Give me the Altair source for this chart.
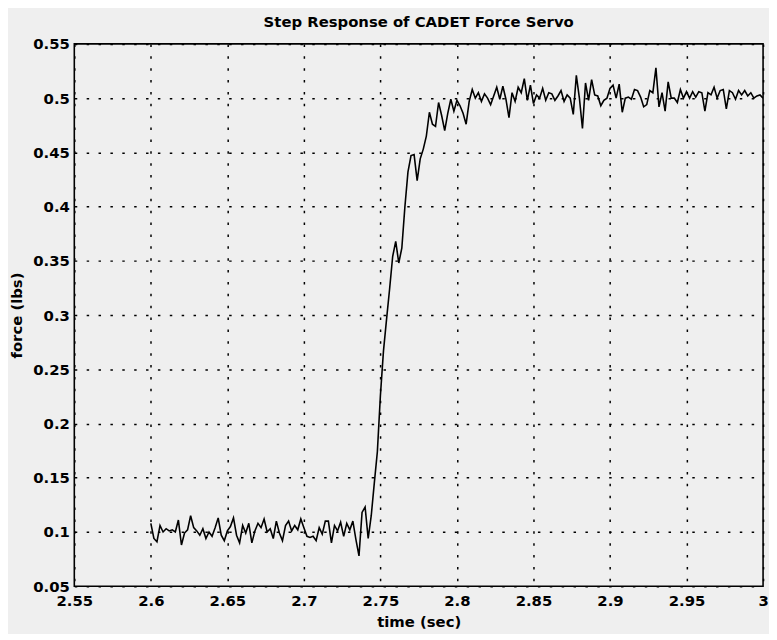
import altair as alt
import pandas as pd

# Force samples (lbs), one every 2 ms from t = 2.600 s to t = 3.000 s
force = [
    0.108, 0.094, 0.091, 0.106, 0.100, 0.103, 0.101, 0.102, 0.100, 0.111,
    0.088, 0.099, 0.102, 0.115, 0.104, 0.101, 0.097, 0.103, 0.094, 0.100,
    0.096, 0.104, 0.113, 0.097, 0.092, 0.101, 0.105, 0.113, 0.097, 0.090,
    0.106, 0.099, 0.108, 0.090, 0.101, 0.108, 0.104, 0.112, 0.100, 0.103,
    0.094, 0.110, 0.099, 0.092, 0.106, 0.110, 0.101, 0.106, 0.102, 0.112,
    0.104, 0.096, 0.095, 0.096, 0.092, 0.104, 0.098, 0.110, 0.110, 0.090,
    0.106, 0.101, 0.109, 0.096, 0.108, 0.102, 0.110, 0.093, 0.078, 0.118,
    0.123, 0.094, 0.115, 0.145, 0.174, 0.226, 0.267, 0.296, 0.324, 0.354,
    0.368, 0.348, 0.362, 0.400, 0.432, 0.447, 0.448, 0.424, 0.444, 0.453,
    0.465, 0.487, 0.476, 0.474, 0.496, 0.484, 0.470, 0.486, 0.499, 0.488,
    0.498, 0.493, 0.486, 0.476, 0.497, 0.508, 0.500, 0.505, 0.497, 0.504,
    0.500, 0.494, 0.502, 0.510, 0.499, 0.511, 0.499, 0.482, 0.505, 0.497,
    0.510, 0.505, 0.518, 0.498, 0.512, 0.495, 0.503, 0.500, 0.509, 0.498,
    0.505, 0.504, 0.498, 0.502, 0.507, 0.497, 0.503, 0.500, 0.485, 0.521,
    0.500, 0.472, 0.514, 0.498, 0.517, 0.503, 0.502, 0.493, 0.498, 0.500,
    0.509, 0.512, 0.500, 0.513, 0.487, 0.500, 0.501, 0.499, 0.508, 0.507,
    0.501, 0.492, 0.494, 0.507, 0.505, 0.528, 0.492, 0.505, 0.488, 0.515,
    0.500, 0.500, 0.496, 0.508, 0.500, 0.506, 0.500, 0.506, 0.501, 0.506,
    0.505, 0.488, 0.505, 0.503, 0.510, 0.500, 0.507, 0.508, 0.490, 0.507,
    0.505, 0.499, 0.507, 0.503, 0.507, 0.502, 0.505, 0.500, 0.502, 0.503,
    0.500,
]
t_start = 2.600
t_step = 0.002
time = [round(t_start + t_step * i, 3) for i in range(len(force))]

x_ticks = [2.55, 2.6, 2.65, 2.7, 2.75, 2.8, 2.85, 2.9, 2.95, 3.0]
y_ticks = [0.05, 0.1, 0.15, 0.2, 0.25, 0.3, 0.35, 0.4, 0.45, 0.5, 0.55]

df = pd.DataFrame({"time": time, "force": force})

FONT = "DejaVu Sans"
BG = "#efefef"

chart = (
    alt.Chart(df)
    .mark_line(color="black", strokeWidth=1.6, clip=True)
    .encode(
        x=alt.X(
            "time:Q",
            scale=alt.Scale(domain=[2.55, 3.0], nice=False, zero=False),
            axis=alt.Axis(
                values=x_ticks,
                labelExpr="format(datum.value, '.2~f')",
                title="time (sec)",
                labelPadding=7,
                titlePadding=7,
                labelOverlap=False,
                labelFlush=False,
            ),
        ),
        y=alt.Y(
            "force:Q",
            scale=alt.Scale(domain=[0.05, 0.55], nice=False, zero=False),
            axis=alt.Axis(
                values=y_ticks,
                labelExpr="format(datum.value, '.2~f')",
                title="force (lbs)",
                labelPadding=5,
                titlePadding=8,
                labelOverlap=False,
                labelFlush=False,
            ),
        ),
    )
    .properties(
        width=696,
        height=548,
        title=alt.TitleParams(
            "Step Response of CADET Force Servo",
            font=FONT,
            fontSize=15,
            fontWeight="bold",
            color="black",
            offset=7,
            anchor="middle",
        ),
        padding={"left": 67, "top": 33, "right": 6, "bottom": 45},
        autosize=alt.AutoSizeParams(type="none"),
        background=BG,
    )
    .configure_view(stroke="black", strokeWidth=1.6, fill=BG)
    .configure_axis(
        grid=True,
        gridColor="black",
        gridDash=[2.5, 9.5],
        gridWidth=1.5,
        gridOpacity=1,
        ticks=False,
        domain=False,
        labelFont=FONT,
        labelFontSize=15,
        labelFontWeight="bold",
        labelColor="black",
        titleFont=FONT,
        titleFontSize=15,
        titleFontWeight="bold",
        titleColor="black",
    )
)

chart.save("out.html", embed_options={"renderer": "svg", "actions": False})
